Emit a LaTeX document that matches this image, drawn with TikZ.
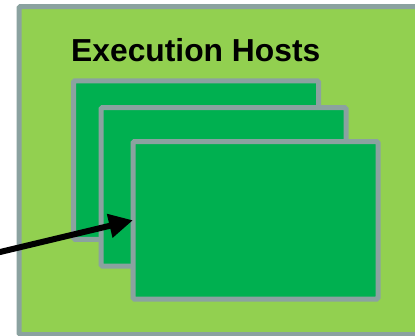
\documentclass[tikz,border=0pt]{standalone}
\usepackage{fontspec}
\setmainfont{Liberation Sans}
\usetikzlibrary{arrows.meta}
\definecolor{lightgrn}{RGB}{146,208,80}
\definecolor{hostgrn}{RGB}{0,176,80}
\definecolor{edgegray}{RGB}{139,162,160}
\tikzset{
  framebox/.style={draw=edgegray, line width=5pt, rounded corners=1.5pt},
  hostbox/.style={framebox, fill=hostgrn, rectangle, inner sep=0pt, outer sep=0pt},
  pointer/.style={line width=6pt, -{Triangle[length=24pt,width=23pt]}}
}
\begin{document}
\begin{tikzpicture}[x=1pt,y=-1pt]
  \useasboundingbox (0,0) rectangle (415,335);
  \clip (0,0) rectangle (415,335);
  % enclosing pool of execution hosts
  \node[framebox, fill=lightgrn, rectangle, inner sep=0pt, outer sep=0pt,
        minimum width=410pt, minimum height=328pt, anchor=north west]
        (pool) at (19,6.5) {};
  \node[anchor=base west, inner sep=0pt, font=\bfseries\fontsize{31.8pt}{36pt}\selectfont]
        (title) at (71,61) {Execution Hosts};
  % stacked hosts, back to front
  \node[hostbox, minimum width=245pt, minimum height=158.5pt] (h1) at (196,160) {};
  \node[hostbox, minimum width=245pt, minimum height=158.5pt] (h2) at (223.5,186.75) {};
  \node[hostbox, minimum width=245pt, minimum height=157.5pt] (h3) at (255.5,220.25) {};
  % incoming job
  \coordinate (src) at (-20,256.8);
  \draw[pointer] (src) -- (h3.west);
\end{tikzpicture}
\end{document}
